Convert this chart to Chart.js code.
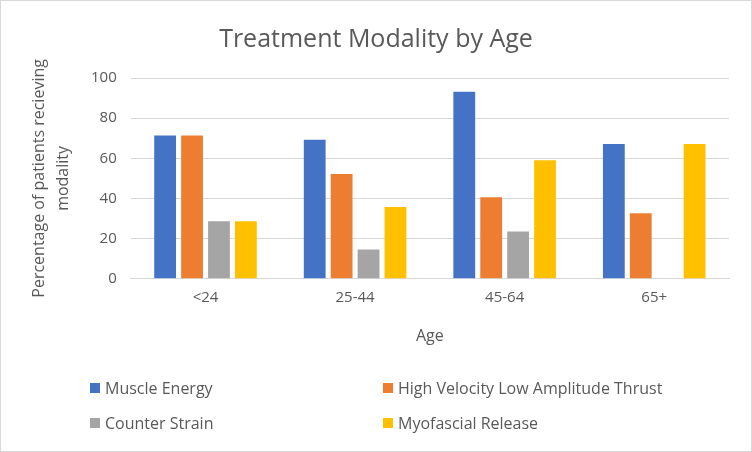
<!DOCTYPE html>
<html>
<head>
<meta charset="utf-8">
<script src="https://cdn.jsdelivr.net/npm/chart.js@4"></script>
<style>
  body { margin: 0; background: #fff; }
  #wrap { position: relative; width: 752px; height: 452px; box-sizing: border-box; border: 1px solid #d9d9d9; background: #fff; }
  #chart { position: absolute; left: 0; top: 0; }
  #legend { position: absolute; left: 0; top: 0; width: 100%; height: 100%; pointer-events: none;
            font-family: "Open Sans", sans-serif; font-size: 16px; color: #595959; }
  .item { position: absolute; display: flex; align-items: center; white-space: nowrap; }
  .box { width: 10px; height: 10px; margin-right: 5px; }
</style>
</head>
<body>
<div id="wrap">
  <canvas id="chart" width="750" height="450"></canvas>
  <div id="legend"></div>
</div>
<script>
const ages = ['<24', '25-44', '45-64', '65+'];
const muscleEnergy = [71.4, 69.2, 93.1, 67.1];
const hvla         = [71.4, 52.2, 40.6, 32.6];
const counterStr   = [28.6, 14.6, 23.6, 0];
const myofascial   = [28.6, 35.8, 59.1, 67.1];
const yTicks = [0, 20, 40, 60, 80, 100];

const grey = '#595959';
const font = 'Open Sans';

const chart = new Chart(document.getElementById('chart'), {
    type: 'bar',
    data: {
        labels: ages,
        datasets: [
            { label: 'Muscle Energy', data: muscleEnergy, backgroundColor: '#4472c4' },
            { label: 'High Velocity Low Amplitude Thrust', data: hvla, backgroundColor: '#ed7d31' },
            { label: 'Counter Strain', data: counterStr, backgroundColor: '#a5a5a5' },
            { label: 'Myofascial Release', data: myofascial, backgroundColor: '#ffc000' }
        ]
    },
    options: {
        responsive: false,
        animation: false,
        categoryPercentage: 0.72,
        barPercentage: 0.81,
        layout: { padding: { left: 22, right: 22, top: 12, bottom: 101 } },
        plugins: {
            legend: { display: false },
            tooltip: { enabled: false },
            title: {
                display: true,
                text: 'Treatment Modality by Age',
                color: grey,
                font: { family: font, size: 25, weight: 'normal' },
                padding: { top: 12, bottom: 23 }
            }
        },
        scales: {
            x: {
                grid: { display: false, drawTicks: false },
                border: { color: '#d9d9d9' },
                ticks: { color: grey, font: { family: font, size: 15 }, padding: 10 },
                title: { display: true, text: 'Age', color: grey, font: { family: font, size: 16 }, padding: { top: 10 } }
            },
            y: {
                min: 0, max: 100,
                afterBuildTicks: ax => { ax.ticks = yTicks.map(v => ({ value: v })); },
                grid: { color: '#d9d9d9', drawTicks: false },
                border: { display: false },
                ticks: { color: grey, font: { family: font, size: 15 }, padding: 14 },
                title: {
                    display: true,
                    text: ['Percentage of patients recieving', 'modality'],
                    color: grey,
                    font: { family: font, size: 16, lineHeight: 1.5 },
                    padding: { bottom: 2 }
                }
            }
        }
    }
});

// two-column legend under the plot, like the Excel original
const legend = document.getElementById('legend');
const spots = [[89, 388], [382, 388], [89, 423], [382, 423]];
chart.data.datasets.forEach((ds, i) => {
    const it = document.createElement('div');
    it.className = 'item';
    it.style.left = spots[i][0] + 'px';
    it.style.top = (spots[i][1] - 12) + 'px';
    it.innerHTML = '<span class="box" style="background:' + ds.backgroundColor + '"></span>' + ds.label;
    legend.appendChild(it);
});
</script>
</body>
</html>
